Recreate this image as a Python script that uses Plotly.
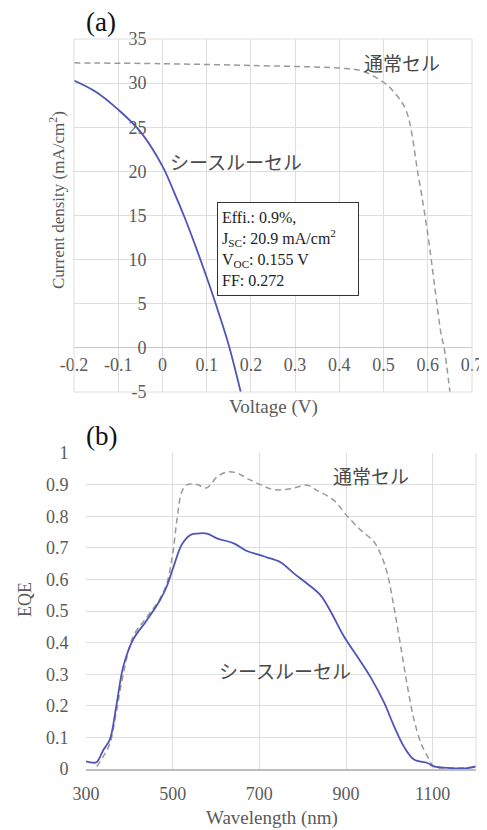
import plotly.graph_objects as go

# page body has an 8px default margin: figure is sized to fill the rest of the window
OFF = 8
W, H = 487 - OFF, 830 - OFF

# ---- Panel (a): J-V data ----
v_see = [-0.2, -0.15, -0.1, -0.05, 0.0, 0.025, 0.05, 0.075, 0.1, 0.125, 0.15, 0.177]
j_see = [30.3, 29.0, 27.0, 24.5, 20.6, 17.8, 14.8, 11.5, 8.0, 4.3, 0.3, -5.0]

v_norm = [-0.2, 0.0, 0.2, 0.4, 0.45, 0.5, 0.525, 0.551, 0.578, 0.6, 0.615, 0.63, 0.637, 0.65]
j_norm = [32.3, 32.2, 32.0, 31.7, 31.4, 30.1, 28.9, 26.9, 19.7, 12.9, 7.2, 1.6, 0.0, -5.0]

a_xticks = [-0.2, -0.1, 0.0, 0.1, 0.2, 0.3, 0.4, 0.5, 0.6, 0.7]
a_xticktext = ["-0.2", "-0.1", "0", "0.1", "0.2", "0.3", "0.4", "0.5", "0.6", "0.7"]
a_yticks = [-5, 0, 5, 10, 15, 20, 25, 30, 35]
a_yticktext = ["-5", "0", "5", "10", "15", "20", "25", "30", "35"]

# ---- Panel (b): EQE data ----
wl_see = [300, 315, 325, 340, 355, 370, 386, 409, 440, 471, 487, 502, 521, 540, 556, 579,
          602, 641, 671, 702, 717, 748, 779, 810, 841, 864, 895, 926, 957, 988, 1011,
          1034, 1057, 1088, 1103, 1141, 1180, 1200]
eqe_see = [0.024, 0.02, 0.022, 0.06, 0.093, 0.2, 0.324, 0.41, 0.47, 0.535, 0.58, 0.64, 0.71,
           0.74, 0.745, 0.745, 0.73, 0.714, 0.69, 0.677, 0.67, 0.655, 0.62, 0.587, 0.55, 0.5,
           0.42, 0.356, 0.29, 0.21, 0.135, 0.07, 0.03, 0.019, 0.008, 0.003, 0.003, 0.008]

wl_norm = [325, 340, 355, 370, 386, 409, 440, 471, 487, 500, 510, 521, 533, 556, 579, 602,
           625, 648, 671, 702, 733, 772, 810, 833, 872, 903, 934, 964, 980, 995, 1011, 1026,
           1042, 1057, 1073, 1088, 1103, 1141, 1200]
eqe_norm = [0.008, 0.04, 0.08, 0.18, 0.30, 0.42, 0.48, 0.54, 0.59, 0.68, 0.79, 0.877, 0.90,
            0.90, 0.89, 0.924, 0.94, 0.937, 0.92, 0.90, 0.884, 0.887, 0.898, 0.882, 0.85,
            0.80, 0.756, 0.72, 0.68, 0.62, 0.51, 0.39, 0.26, 0.156, 0.082, 0.04, 0.008,
            0.003, 0.006]

b_xticks = [300, 500, 700, 900, 1100]

BLUE = "#4f55b6"
GRAY_DASH = "#9a9a9a"
GRID = "#dedede"
TXT = "#5a5a5a"
FONT = "Liberation Serif"
NOTICK = "rgba(0,0,0,0)"


def px_x(p):
    return (p - OFF) / W


def px_y(p):
    return 1 - (p - OFF) / H


fig = go.Figure()

fig.add_trace(go.Scatter(x=v_norm, y=j_norm, mode="lines", xaxis="x", yaxis="y",
                         line=dict(color=GRAY_DASH, width=1.5, dash="6px,4px"),
                         line_shape="spline", showlegend=False))
fig.add_trace(go.Scatter(x=v_see, y=j_see, mode="lines", xaxis="x", yaxis="y",
                         line=dict(color=BLUE, width=1.8), line_shape="spline",
                         showlegend=False))
fig.add_trace(go.Scatter(x=wl_norm, y=eqe_norm, mode="lines", xaxis="x2", yaxis="y2",
                         line=dict(color=GRAY_DASH, width=1.5, dash="6px,4px"),
                         line_shape="spline", showlegend=False))
fig.add_trace(go.Scatter(x=wl_see, y=eqe_see, mode="lines", xaxis="x2", yaxis="y2",
                         line=dict(color=BLUE, width=1.8), line_shape="spline",
                         showlegend=False))

tickfont = dict(family=FONT, size=18, color=TXT)

# Panel (a) domains (window pixel coordinates)
a_xd = [px_x(74), px_x(472)]
a_yd = [px_y(392), px_y(39)]
# Panel (b) domains
b_xd = [px_x(86), px_x(476)]
b_yd = [px_y(769), px_y(453)]

fig.update_layout(
    width=W, height=H,
    margin=dict(l=0, r=0, t=0, b=0, autoexpand=False),
    paper_bgcolor="white", plot_bgcolor="white",
    xaxis=dict(domain=a_xd, range=[-0.2, 0.7], tickvals=a_xticks, ticktext=a_xticktext,
               anchor="free", position=px_y(347),
               showgrid=True, gridcolor=GRID, gridwidth=1,
               showline=False, zeroline=False,
               ticks="outside", ticklen=1, tickcolor=NOTICK,
               tickfont=tickfont, automargin=False),
    yaxis=dict(domain=a_yd, range=[-5, 35], tickvals=a_yticks, ticktext=a_yticktext,
               anchor="free", position=px_x(163),
               showgrid=True, gridcolor=GRID, gridwidth=1,
               showline=False, zeroline=True, zerolinecolor="#c8c8c8", zerolinewidth=1,
               ticks="outside", ticklen=13, tickcolor=NOTICK,
               tickfont=tickfont, automargin=False),
    xaxis2=dict(domain=b_xd, range=[300, 1200], tickvals=b_xticks,
                anchor="y2", showgrid=True, gridcolor=GRID, gridwidth=1,
                showline=True, linecolor="#bdbdbd", linewidth=1.5, zeroline=False,
                ticks="outside", ticklen=8, tickcolor=NOTICK,
                tickfont=tickfont, automargin=False),
    yaxis2=dict(domain=b_yd, range=[0, 1], dtick=0.1, tickformat="~g",
                anchor="x2", showgrid=True, gridcolor=GRID, gridwidth=1,
                showline=False, zeroline=False,
                ticks="outside", ticklen=13, tickcolor=NOTICK,
                tickfont=tickfont, automargin=False),
)

shapes = []
shapes.append(dict(type="rect", xref="paper", yref="paper",
                   x0=a_xd[0], x1=a_xd[1], y0=a_yd[0], y1=a_yd[1],
                   line=dict(color=GRID, width=1)))
shapes.append(dict(type="line", xref="paper", yref="paper",
                   x0=b_xd[1], x1=b_xd[1], y0=b_yd[0], y1=b_yd[1],
                   line=dict(color=GRID, width=1)))
fig.update_layout(shapes=shapes)

ann = []


def txt(x, y, s, size=19, color=TXT, angle=0, xanchor="center"):
    ann.append(dict(x=px_x(x), y=px_y(y), xref="paper", yref="paper", text=s,
                    showarrow=False, font=dict(family=FONT, size=size, color=color),
                    textangle=angle, xanchor=xanchor, yanchor="middle"))


txt(101, 22, "(a)", size=27, color="#111111")
txt(101, 436, "(b)", size=27, color="#111111")
txt(273, 407, "Voltage (V)", size=19)
txt(57, 200, "Current density (mA/cm<sup>2</sup>)", size=17, angle=-90)
txt(272, 818, "Wavelength (nm)", size=19)
txt(25, 600, "EQE", size=18, angle=-90)

JP = "Noto Sans CJK JP"


def jtxt(x, y, s):
    ann.append(dict(x=px_x(x), y=px_y(y), xref="paper", yref="paper", text=s,
                    showarrow=False, font=dict(family=JP, size=19, color="#4a4a4a"),
                    xanchor="left", yanchor="middle"))


jtxt(362, 62, "通常セル")
jtxt(168, 161, "シースルーセル")
jtxt(331, 475, "通常セル")
jtxt(217, 670, "シースルーセル")

ann.append(dict(x=px_x(217), y=px_y(202), xref="paper", yref="paper",
                xanchor="left", yanchor="top", showarrow=False,
                text="Effi.: 0.9%,<br>J<sub>SC</sub>: 20.9 mA/cm<sup>2</sup><br>"
                     "V<sub>OC</sub>: 0.155 V<br>FF: 0.272",
                align="left", valign="middle", width=132, height=84, borderpad=4,
                bordercolor="#333333", borderwidth=1, bgcolor="white",
                font=dict(family=FONT, size=16, color="#222222")))

fig.update_layout(annotations=ann)

fig.write_html("out.html")
